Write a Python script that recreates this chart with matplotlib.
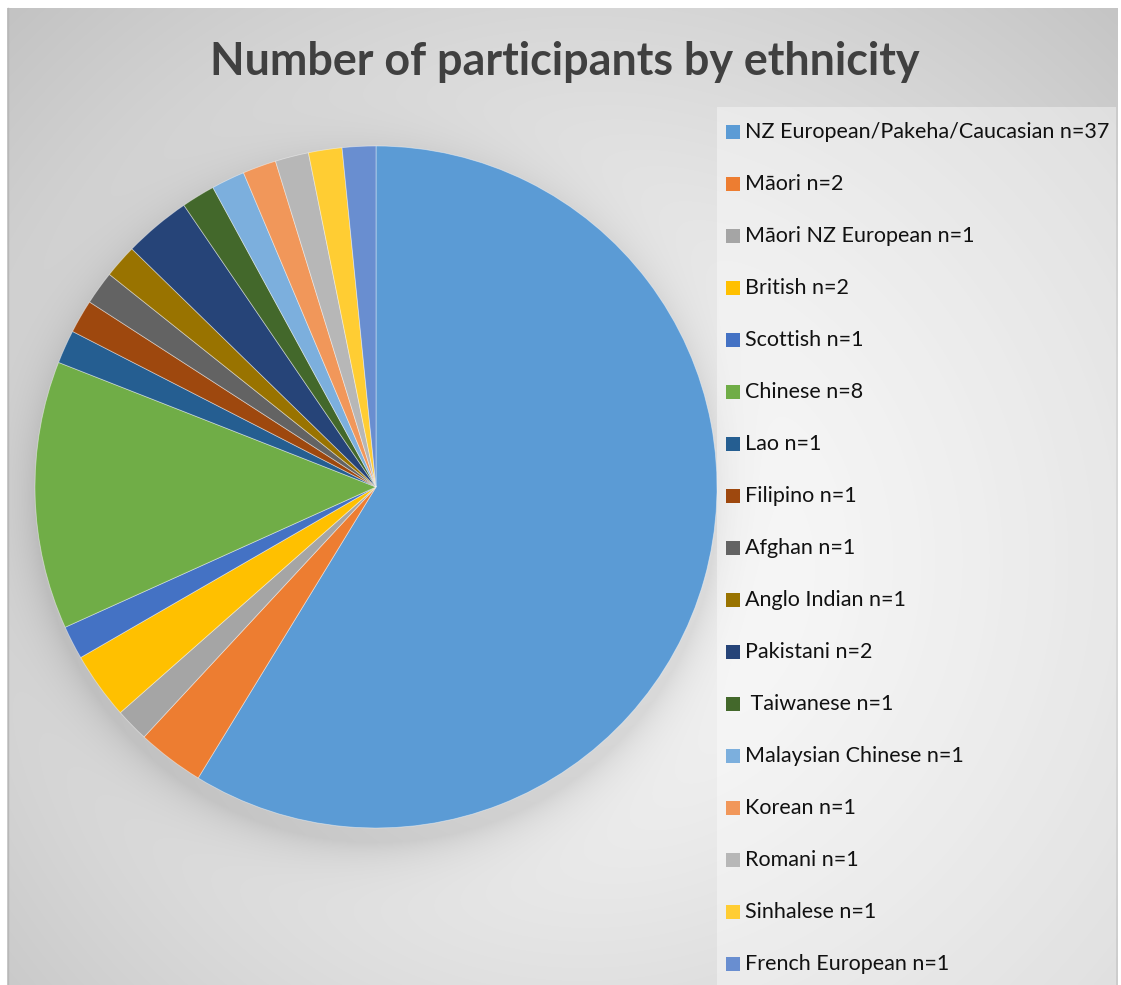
import numpy as np
import matplotlib
matplotlib.use("Agg")
import matplotlib.pyplot as plt
from matplotlib.patches import Rectangle

groups = ["NZ European/Pakeha/Caucasian", "Māori", "Māori NZ European", "British",
          "Scottish", "Chinese", "Lao", "Filipino", "Afghan", "Anglo Indian",
          "Pakistani", " Taiwanese", "Malaysian Chinese", "Korean", "Romani",
          "Sinhalese", "French European"]
counts = [37, 2, 1, 2, 1, 8, 1, 1, 1, 1, 2, 1, 1, 1, 1, 1, 1]
colors = ["#5B9BD5", "#ED7D31", "#A5A5A5", "#FFC000", "#4472C4", "#70AD47",
          "#255E91", "#9E480E", "#636363", "#997300", "#264478", "#43682B",
          "#7CAFDD", "#F1975A", "#B7B7B7", "#FFCD33", "#698ED0"]

W, H = 1121, 985
fig = plt.figure(figsize=(W / 100, H / 100), dpi=100)
fig.patch.set_facecolor("white")

# background: radial grey gradient plus soft shadow under the pie
bg = fig.add_axes([0, 0, 1, 1])
bg.set_xlim(0, W)
bg.set_ylim(H, 0)
bg.axis("off")
yy, xx = np.mgrid[8:H, 7:1118].astype(float)
cx, cy = 580, 560
r = np.hypot((xx - cx) / 580, (yy - cy) / 560) / np.sqrt(2)
shade = 0.99 - 0.23 * np.clip(r, 0, 1) ** 1.2
pc_x, pc_y, rad = 376, 487, 341
d = np.hypot(xx - pc_x, yy - (pc_y + 14)) - rad
shade -= 0.11 * np.exp(-np.clip(d, 0, None) / 24) * (d > -40)
img = np.dstack([shade] * 3)
bg.imshow(img, extent=[7, 1118, H, 8], interpolation="bilinear", zorder=0)
bg.plot([7.5, 7.5], [8, H], color="#b8b8b8", lw=1, zorder=1)
bg.add_patch(Rectangle((717, 107), 399, H - 107, facecolor="white",
                       alpha=0.4, edgecolor="none", zorder=1))

# pie
ax = fig.add_axes([(pc_x - rad) / W, (H - pc_y - rad) / H, 2 * rad / W, 2 * rad / H])
wedges, _ = ax.pie(counts, colors=colors, startangle=90, counterclock=False,
                   radius=1, wedgeprops=dict(edgecolor=(1, 1, 1, 0.45), linewidth=0.6))
ax.set_xlim(-1, 1)
ax.set_ylim(-1, 1)
ax.set_aspect("equal")
ax.axis("off")

fig.text(565 / W, 1 - 62 / H, "Number of participants by ethnicity",
         ha="center", va="center", fontsize=32.3, fontweight="bold",
         color="#404040", family="Lato")

# legend
for i, (g, n, c) in enumerate(zip(groups, counts, colors)):
    y = 132 + 52 * i
    bg.add_patch(Rectangle((726, y - 7), 14, 14, facecolor=c, edgecolor="none", zorder=2))
    bg.text(745, y, f"{g} n={n}", ha="left", va="center", fontsize=15.5,
            color="#111111", family="Lato", zorder=2)

fig.savefig("out.png", dpi=100)
